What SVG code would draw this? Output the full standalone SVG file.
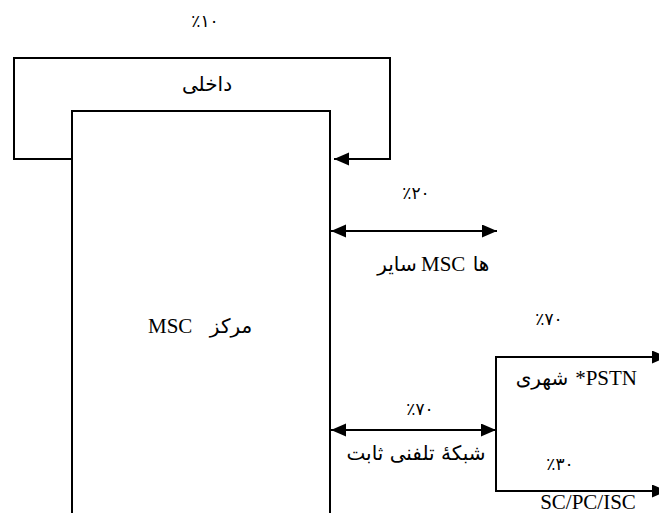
<svg xmlns="http://www.w3.org/2000/svg" width="659" height="513" viewBox="0 0 659 513">
<style>
.ln{fill:none;stroke:#000;stroke-width:2}
.box{fill:#fff;stroke:#000;stroke-width:2}
.t{font-family:"Liberation Serif","Times New Roman",serif;font-size:21px;fill:#000}
.fa{font-family:"DejaVu Sans","Noto Sans",sans-serif;font-size:20px;fill:#000}
.pc{font-family:"DejaVu Sans","Noto Sans",sans-serif;font-size:17px;fill:#000;text-anchor:middle}
.m{text-anchor:middle}
.s{text-anchor:start}
.e{text-anchor:end}
</style>
<defs>
<marker id="ah" markerUnits="userSpaceOnUse" markerWidth="16" markerHeight="14" refX="15" refY="6.5" orient="auto-start-reverse" viewBox="0 0 16 14">
<path d="M0,0 L15,6.5 L0,13 z" fill="#000"/>
</marker>
</defs>
<rect width="659" height="513" fill="#fff"/>
<g id="connectors">
<path class="ln" d="M72,159 H14 V58 H390 V159 H334" marker-end="url(#ah)"/>
<path class="ln" d="M331,231 H497" marker-start="url(#ah)" marker-end="url(#ah)"/>
<path class="ln" d="M331,430 H496" marker-start="url(#ah)" marker-end="url(#ah)"/>
<path class="ln" d="M496,430 V357 H667" marker-end="url(#ah)"/>
<path class="ln" d="M496,430 V491 H667" marker-end="url(#ah)"/>
</g>
<g id="msc">
<rect class="box" x="72" y="111" width="258" height="420"/>
<text class="t s" x="148" y="333" font-size="22">MSC</text>
<text class="fa m" x="231" y="333" font-size="21">مرکز</text>
</g>
<g id="label-internal">
<text class="pc" x="205" y="27">٪۱۰</text>
<text class="fa m" x="207" y="91">داخلی</text>
</g>
<g id="label-other">
<text class="pc" x="416" y="199">٪۲۰</text>
<text class="fa m" x="397" y="271">سایر</text>
<text class="t s" x="421" y="271">MSC</text>
<text class="fa m" x="481" y="271">ها</text>
</g>
<g id="label-fixed">
<text class="pc" x="420" y="415">٪۷۰</text>
<text class="fa m" x="416" y="460">شبکهٔ تلفنی ثابت</text>
</g>
<g id="label-pstn">
<text class="pc" x="549" y="325">٪۷۰</text>
<text class="fa m" x="542" y="385">شهری</text>
<text class="t e" x="637" y="385" font-size="22">*PSTN</text>
</g>
<g id="label-sc">
<text class="pc" x="560" y="470">٪۳۰</text>
<text class="t m" x="588" y="509" font-size="20">SC/PC/ISC</text>
</g>
</svg>
